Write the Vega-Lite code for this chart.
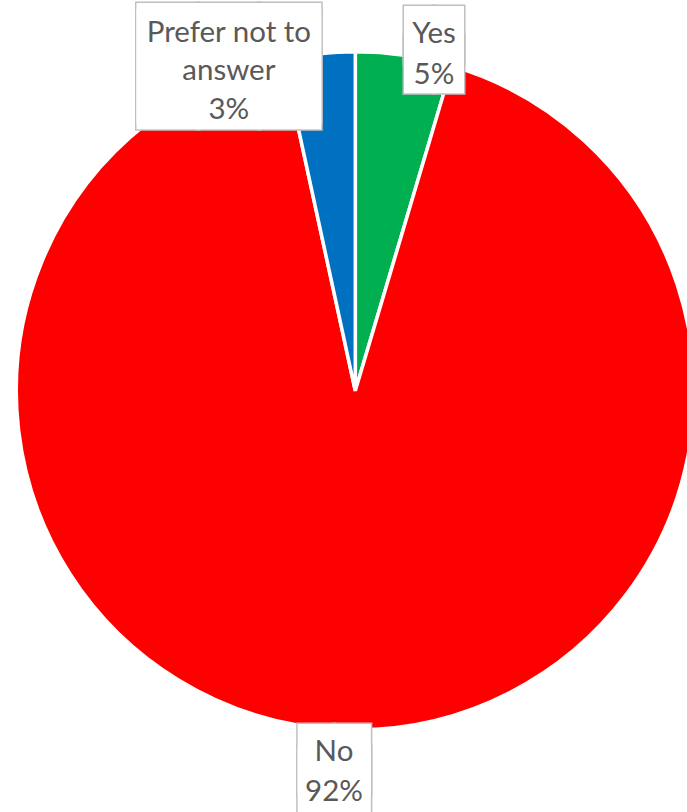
{
  "$schema": "https://vega.github.io/schema/vega-lite/v6.json",
  "width": 710.6,
  "height": 781.6,
  "autosize": {"type": "none"},
  "padding": {"left": 0, "top": 0, "right": 0, "bottom": 31},
  "background": "white",
  "config": {"view": {"stroke": null}},
  "data": {
    "values": [
      {"answer": "Yes", "value": 4.6, "order": 1},
      {"answer": "No", "value": 92.0, "order": 2},
      {"answer": "Prefer not to answer", "value": 3.4, "order": 3}
    ]
  },
  "transform": [
    {"calculate": "format(datum.value / 100, '.0%')", "as": "pct"},
    {"calculate": "datum.answer == 'Yes' ? 'Yes\\n' + datum.pct : ''", "as": "tYes"},
    {"calculate": "datum.answer == 'No' ? 'No\\n' + datum.pct : ''", "as": "tNo"},
    {"calculate": "datum.answer == 'Prefer not to answer' ? 'Prefer not to\\nanswer\\n' + datum.pct : ''", "as": "tPrefer"},
    {"calculate": "datum.answer == 'Yes' ? '██\\n██' : ''", "as": "bYes"},
    {"calculate": "datum.answer == 'No' ? '██\\n██' : ''", "as": "bNo"},
    {"calculate": "datum.answer == 'Prefer not to answer' ? '███\\n███' : ''", "as": "bPrefer"}
  ],
  "encoding": {
    "theta": {"field": "value", "type": "quantitative", "stack": true},
    "order": {"field": "order", "type": "quantitative"},
    "detail": {"field": "answer", "type": "nominal"}
  },
  "layer": [
    {
      "mark": {"type": "arc", "outerRadius": 339, "stroke": "white", "strokeWidth": 3.5},
      "encoding": {
        "color": {
          "field": "answer",
          "type": "nominal",
          "scale": {"domain": ["Yes", "No", "Prefer not to answer"], "range": ["#00B050", "#FF0000", "#0070C0"]},
          "legend": null
        }
      }
    },
    {
      "mark": {"type": "text", "radius": 340, "dx": 29.7, "dy": -17, "font": "DejaVu Sans Mono", "fontSize": 49, "lineHeight": 29, "lineBreak": "\n", "fill": "white", "stroke": "#BFBFBF", "strokeWidth": 3, "strokeJoin": "miter", "align": "center", "baseline": "middle"},
      "encoding": {"text": {"field": "bYes", "type": "nominal"}}
    },
    {
      "mark": {"type": "text", "radius": 340, "dx": 29.7, "dy": -17, "font": "DejaVu Sans Mono", "fontSize": 49, "lineHeight": 29, "lineBreak": "\n", "fill": "white", "align": "center", "baseline": "middle"},
      "encoding": {"text": {"field": "bYes", "type": "nominal"}}
    },
    {
      "mark": {"type": "text", "radius": 340, "dx": -8.0, "dy": 31.5, "font": "DejaVu Sans Mono", "fontSize": 59.8, "lineHeight": 22, "lineBreak": "\n", "fill": "white", "stroke": "#BFBFBF", "strokeWidth": 3, "strokeJoin": "miter", "align": "center", "baseline": "middle"},
      "encoding": {"text": {"field": "bNo", "type": "nominal"}}
    },
    {
      "mark": {"type": "text", "radius": 340, "dx": -8.0, "dy": 31.5, "font": "DejaVu Sans Mono", "fontSize": 59.8, "lineHeight": 22, "lineBreak": "\n", "fill": "white", "align": "center", "baseline": "middle"},
      "encoding": {"text": {"field": "bNo", "type": "nominal"}}
    },
    {
      "mark": {"type": "text", "radius": 340, "dx": -90.2, "dy": 15.4, "font": "DejaVu Sans Mono", "fontSize": 101.3, "lineHeight": 6.1, "lineBreak": "\n", "fill": "white", "stroke": "#BFBFBF", "strokeWidth": 3, "strokeJoin": "miter", "align": "center", "baseline": "middle"},
      "encoding": {"text": {"field": "bPrefer", "type": "nominal"}}
    },
    {
      "mark": {"type": "text", "radius": 340, "dx": -90.2, "dy": 15.4, "font": "DejaVu Sans Mono", "fontSize": 101.3, "lineHeight": 6.1, "lineBreak": "\n", "fill": "white", "align": "center", "baseline": "middle"},
      "encoding": {"text": {"field": "bPrefer", "type": "nominal"}}
    },
    {
      "mark": {"type": "text", "radius": 340, "dx": 29.7, "dy": -20.3, "font": "Lato", "fontSize": 29.5, "lineHeight": 40.5, "lineBreak": "\n", "fill": "#595959", "align": "center", "baseline": "middle"},
      "encoding": {"text": {"field": "tYes", "type": "nominal"}}
    },
    {
      "mark": {"type": "text", "radius": 340, "dx": -8.5, "dy": 21.9, "font": "Lato", "fontSize": 29.5, "lineHeight": 39.5, "lineBreak": "\n", "fill": "#595959", "align": "center", "baseline": "middle"},
      "encoding": {"text": {"field": "tNo", "type": "nominal"}}
    },
    {
      "mark": {"type": "text", "radius": 340, "dx": -90.2, "dy": -20.2, "font": "Lato", "fontSize": 29.5, "lineHeight": 38.5, "lineBreak": "\n", "fill": "#595959", "align": "center", "baseline": "middle"},
      "encoding": {"text": {"field": "tPrefer", "type": "nominal"}}
    }
  ]
}
